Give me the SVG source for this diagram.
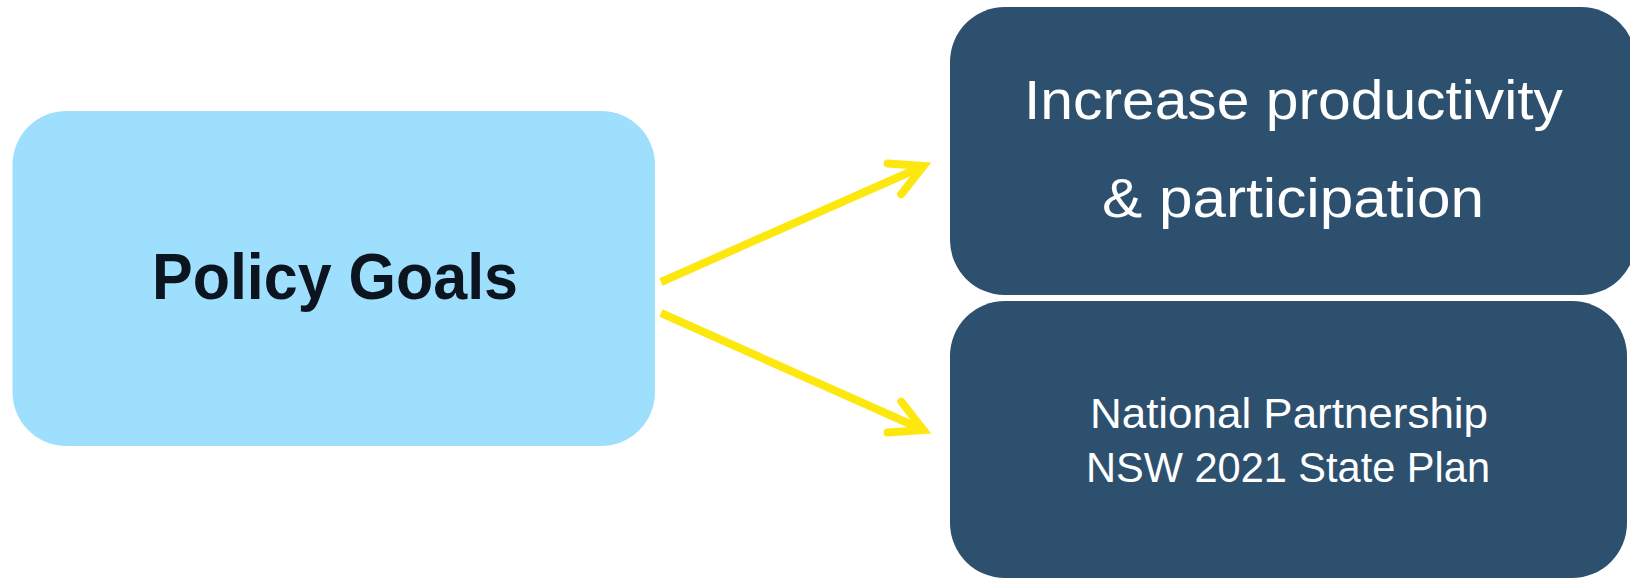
<svg xmlns="http://www.w3.org/2000/svg" width="1630" height="580" viewBox="0 0 1630 580">
<style>
  .goal { fill: #9DDFFD; }
  .target { fill: #2E506F; }
  .lbl-dark { font-family: "Liberation Sans", Arial, sans-serif; font-weight: bold; fill: #0B141F; text-anchor: middle; }
  .lbl-light { font-family: "Liberation Sans", Arial, sans-serif; fill: #FFFFFF; text-anchor: middle; }
  .conn { fill: none; stroke: #FCE80F; stroke-width: 8; stroke-linecap: butt; }
  .head { fill: none; stroke: #FCE80F; stroke-width: 8; stroke-linecap: round; stroke-linejoin: miter; stroke-miterlimit: 10; }
</style>
<defs>
  <marker id="arrow" markerUnits="userSpaceOnUse" orient="auto" markerWidth="60" markerHeight="60" refX="0" refY="0" viewBox="-50 -30 60 60" overflow="visible">
    <path class="head" d="M -31.8 -16.9 L 0 0 L -31.8 16.9"/>
  </marker>
</defs>
<rect width="1630" height="580" fill="#FFFFFF"/>
<g id="policy-goals">
  <rect class="goal" x="12.5" y="111" width="642.5" height="335" rx="54" ry="54"/>
  <text class="lbl-dark" x="335" y="299" font-size="64" textLength="366" lengthAdjust="spacingAndGlyphs">Policy Goals</text>
</g>
<g id="increase-productivity">
  <rect class="target" x="950" y="7" width="686" height="288" rx="55" ry="55"/>
  <text class="lbl-light" x="1293.5" y="119" font-size="56" textLength="539" lengthAdjust="spacingAndGlyphs">Increase productivity</text>
  <text class="lbl-light" x="1293" y="216.5" font-size="56" textLength="382" lengthAdjust="spacingAndGlyphs">&amp; participation</text>
</g>
<g id="national-partnership">
  <rect class="target" x="950" y="301" width="677" height="277" rx="55" ry="55"/>
  <text class="lbl-light" x="1289" y="428" font-size="42" textLength="398" lengthAdjust="spacingAndGlyphs">National Partnership</text>
  <text class="lbl-light" x="1288" y="481.5" font-size="42" textLength="404" lengthAdjust="spacingAndGlyphs">NSW 2021 State Plan</text>
</g>
<g id="connectors">
  <path class="conn" d="M 661 282 L 923.5 166" marker-end="url(#arrow)"/>
  <path class="conn" d="M 661 313 L 923.5 430" marker-end="url(#arrow)"/>
</g>
</svg>
